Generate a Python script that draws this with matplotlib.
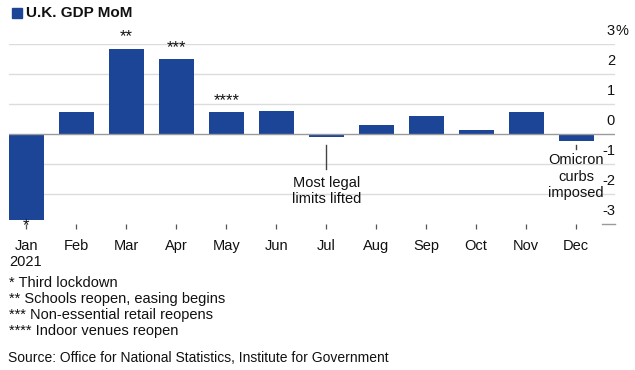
import matplotlib
matplotlib.use("Agg")
import matplotlib.pyplot as plt
from matplotlib.patches import Rectangle

plt.rcParams['font.family'] = ['Liberation Sans', 'DejaVu Sans']

months = ["Jan", "Feb", "Mar", "Apr", "May", "Jun", "Jul", "Aug", "Sep", "Oct", "Nov", "Dec"]
gdp_mom = [-2.85, 0.75, 2.85, 2.5, 0.72, 0.77, -0.1, 0.3, 0.6, 0.13, 0.73, -0.23]
bar_marks = {2: "**", 3: "***", 4: "****"}
y_ticks = [3, 2, 1, 0, -1, -2, -3]
footnotes = ["* Third lockdown", "** Schools reopen, easing begins",
             "*** Non-essential retail reopens", "**** Indoor venues reopen"]
title = "U.K. GDP MoM"
source = "Source: Office for National Statistics, Institute for Government"

W, H = 635, 370
BLUE = "#1c4597"
GRID = "#dcdcdc"
TXT = "#111111"

fig = plt.figure(figsize=(W / 100, H / 100), dpi=100)

def fx(x):
    return x / W

def fy(y):
    return 1 - y / H

# axes: x from px 9 to 615, y=3 at px 44, y=-3 at px 224
ax = fig.add_axes([fx(9), fy(224), fx(615) - fx(9), fy(44) - fy(224)])
ax.set_xlim(-0.35, 11.78)
ax.set_ylim(-3, 3)
for s in ax.spines.values():
    s.set_visible(False)

x = list(range(len(months)))
for v in [3, 2, 1, -1, -2]:
    ax.axhline(v, color=GRID, lw=1.0, zorder=0)
ax.axhline(0, color="#9a9a9a", lw=1.0, zorder=3)
ax.plot([11.52, 11.78], [-3, -3], color="#9a9a9a", lw=1.0, clip_on=False)

ax.bar(x, gdp_mom, width=0.7, color=BLUE, zorder=2)

for i, m in bar_marks.items():
    ax.annotate(m, (x[i], gdp_mom[i]), xytext=(0, 3), textcoords="offset points",
                ha="center", va="bottom", fontsize=12, color=TXT)

# x ticks
ax.set_xticks(x)
ax.set_xticklabels(months, fontsize=10.5, color=TXT)
ax.tick_params(axis="x", length=3.5, width=0.9, color="#555555", pad=7)
ax.tick_params(axis="y", left=False, right=False, labelleft=False)
fig.text(fx(26), fy(262), "2021", fontsize=10.5, ha="center", va="center", color=TXT)
fig.text(fx(26), fy(226), "*", fontsize=12, ha="center", va="center", color=TXT)

# y tick labels (above gridlines, right side)
for v in y_ticks:
    lbl = str(v) if v >= 0 else "-" + str(abs(v))
    ax.annotate(lbl, (1, v), xycoords=ax.get_yaxis_transform(),
                xytext=(0, 4), textcoords="offset points",
                ha="right", va="bottom", fontsize=10.5, color=TXT)
    if v == 3:
        ax.annotate("%", (1, v), xycoords=ax.get_yaxis_transform(),
                    xytext=(0, 4), textcoords="offset points",
                    ha="left", va="bottom", fontsize=10.5, color=TXT)

# annotations
ax.plot([6, 6], [-0.38, -1.15], color="#444444", lw=1.0, zorder=4)
ax.text(6, -1.4, "Most legal\nlimits lifted", ha="center", va="top",
        fontsize=10.5, color=TXT, linespacing=1.15, zorder=5)
ax.plot([11, 11], [-0.38, -0.5], color="#444444", lw=1.0, zorder=4)
ax.text(11, -0.65, "Omicron\ncurbs\nimposed", ha="center", va="top",
        fontsize=10.5, color=TXT, linespacing=1.2, zorder=5)

# title with square marker
fig.patches.append(Rectangle((fx(12), fy(18)), fx(10), fy(8) - fy(18),
                             transform=fig.transFigure, color=BLUE))
fig.text(fx(26), fy(13), title, fontsize=11, fontweight="bold",
         ha="left", va="center", color=TXT)

for i, line in enumerate(footnotes):
    fig.text(fx(9), fy(283 + i * 16), line, fontsize=10.5, ha="left",
             va="center", color=TXT)
fig.text(fx(8), fy(358), source, fontsize=10, ha="left", va="center", color=TXT)

fig.savefig("out.png", dpi=100, facecolor="white")
